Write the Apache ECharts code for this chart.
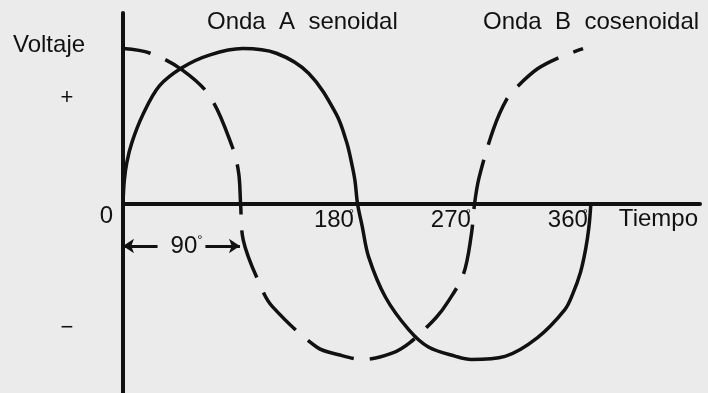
<!DOCTYPE html>
<html>
<head>
<meta charset="utf-8">
<script src="https://cdn.jsdelivr.net/npm/echarts@6/dist/echarts.min.js"></script>
<style>
  html, body { margin: 0; padding: 0; background: #ebebeb; }
  #chart { width: 708px; height: 393px; }
</style>
</head>
<body>
<div id="chart"></div>
<script>
// Onda A (senoidal): angle in degrees / relative voltage
const sineAngles = [0, 1, 3, 7, 15, 28, 46, 67, 92, 118, 143, 164, 172, 176, 178.5, 180.5, 184, 189, 202, 220, 235, 256, 268, 294, 319, 340, 346, 352, 356, 358.5, 360];
const sineValues = [0, 0.15, 0.27, 0.40, 0.57, 0.76, 0.88, 0.96, 1.0, 0.97, 0.84, 0.58, 0.40, 0.26, 0.15, 0, -0.14, -0.34, -0.60, -0.81, -0.92, -0.98, -1.0, -0.98, -0.86, -0.68, -0.58, -0.44, -0.29, -0.15, 0];

// Onda B (cosenoidal), dashed
const cosAngles = [0, 21, 46, 67, 84, 89, 90.5, 92.5, 106, 115, 149, 166, 185, 207, 221, 241, 250, 262, 268, 270.5, 274, 285, 295, 304, 319, 335, 354];
const cosValues = [1.0, 0.97, 0.86, 0.69, 0.37, 0.2, 0, -0.23, -0.53, -0.66, -0.92, -0.97, -1.0, -0.96, -0.89, -0.73, -0.63, -0.45, -0.2, 0, 0.17, 0.48, 0.67, 0.76, 0.87, 0.94, 1.0];

// x tick labels (degrees) and the 90 degree span marker
const degreeTicks = [180, 270, 360];
const spanStart = 0;
const spanEnd = 90;
const spanLevel = -0.27;

const ink = '#111';
const paper = '#ebebeb';
const font = 'Liberation Sans, Arial, sans-serif';

const chart = echarts.init(document.getElementById('chart'));

const degRich = {
  n: { fontSize: 24, fontFamily: font, color: ink },
  d: { fontSize: 13, fontFamily: font, color: ink, padding: [0, 0, 12, 0] },
  // degree sign that hangs just past the tick
  dz: { fontSize: 13, fontFamily: font, color: ink, width: 0, padding: [0, 0, 12, 0] }
};

chart.setOption({
  backgroundColor: paper,
  animation: false,
  grid: { left: 123, right: 8, top: 13, bottom: 0, outerBoundsMode: 'none' },
  xAxis: {
    type: 'value',
    min: 0,
    max: 444,
    offset: -189,
    axisLine: { show: true, onZero: false, lineStyle: { color: ink, width: 4 } },
    axisTick: { show: false },
    splitLine: { show: false },
    axisLabel: {
      customValues: degreeTicks,
      formatter: (v) => '{n|' + v + '}{dz|°}',
      align: 'right',
      margin: 4,
      padding: [0, 3, 0, 0],
      rich: degRich
    },
    name: 'Tiempo',
    nameLocation: 'end',
    nameGap: -2,
    nameTextStyle: {
      fontSize: 24, fontFamily: font, color: ink,
      align: 'right', verticalAlign: 'top', padding: [3, 0, 0, 0]
    }
  },
  yAxis: {
    type: 'value',
    min: -1.216,
    max: 1.229,
    axisLine: { show: true, onZero: false, lineStyle: { color: ink, width: 4 } },
    axisTick: { show: false },
    splitLine: { show: false },
    axisLabel: {
      customValues: [0],
      formatter: () => '0',
      margin: 10,
      verticalAlign: 'top',
      fontSize: 24,
      fontFamily: font,
      color: ink
    }
  },
  series: [
    {
      name: 'Onda A senoidal',
      type: 'line',
      data: sineAngles.map((a, i) => [a, sineValues[i]]),
      smooth: 0.35,
      showSymbol: false,
      lineStyle: { color: ink, width: 3.5 },
      markLine: {
        silent: true,
        symbol: ['arrow', 'arrow'],
        symbolSize: 11,
        lineStyle: { color: ink, width: 3, type: 'solid' },
        label: {
          show: true,
          position: 'insideMiddle',
          formatter: '{n|90}{d|°}',
          backgroundColor: paper,
          padding: [0, 3, 0, 13],
          rich: degRich
        },
        data: [[{ coord: [spanStart, spanLevel] }, { coord: [spanEnd, spanLevel] }]]
      }
    },
    {
      name: 'Onda B cosenoidal',
      type: 'line',
      data: cosAngles.map((a, i) => [a, cosValues[i]]),
      smooth: 0.35,
      showSymbol: false,
      lineStyle: { color: ink, width: 3.5, type: [50, 16], dashOffset: 22 }
    }
  ],
  graphic: [
    { type: 'text', left: 13, top: 33, style: { text: 'Voltaje', fontSize: 24, fontFamily: font, fill: ink } },
    { type: 'text', x: 67, y: 98, style: { text: '+', fontSize: 22, fontFamily: font, fill: ink, align: 'center', verticalAlign: 'middle' } },
    { type: 'text', x: 67, y: 328, style: { text: '−', fontSize: 22, fontFamily: font, fill: ink, align: 'center', verticalAlign: 'middle' } },
    { type: 'text', left: 207, top: 10, style: { text: 'Onda  A  senoidal', fontSize: 24, fontFamily: font, fill: ink } },
    { type: 'text', left: 483, top: 10, style: { text: 'Onda  B  cosenoidal', fontSize: 24, fontFamily: font, fill: ink } }
  ]
});
</script>
</body>
</html>
